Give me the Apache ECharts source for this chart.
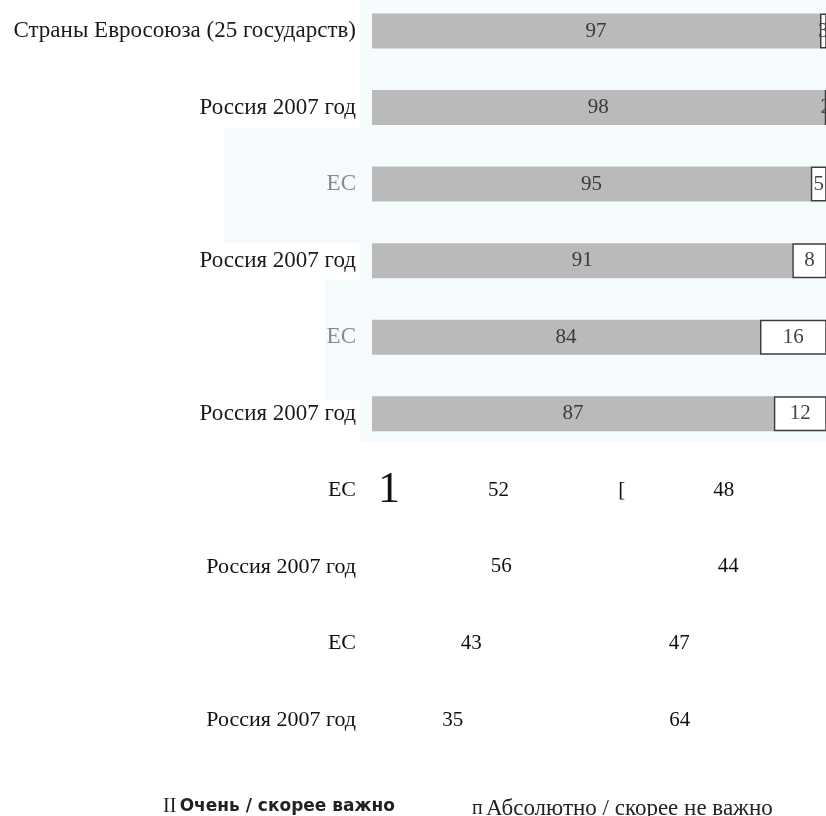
<!DOCTYPE html>
<html><head><meta charset="utf-8">
<script src="https://cdn.jsdelivr.net/npm/echarts@6/dist/echarts.min.js"></script>
<style>html,body{margin:0;padding:0;background:#fff}#c{width:826px;height:816px}</style>
</head><body><div id="c"></div><script>
const categories = ['Страны Евросоюза (25 государств)','Россия 2007 год','ЕС','Россия 2007 год','ЕС','Россия 2007 год','ЕС','Россия 2007 год','ЕС','Россия 2007 год'];
const importantValues = [97,98,95,91,84,87,52,56,43,35];
const notImportantValues = [3,2,5,8,16,12,48,44,47,64];
const seriesNames = ['Очень / скорее важно','Абсолютно / скорее не важно'];
const legendMarks = ['II','п'];
const scanMarks = ['1','['];
const scanRow = 6;
const barRows = 6;

const chart = echarts.init(document.getElementById('c'));
const serif = 'Liberation Serif';

const s1 = importantValues.map((v,i)=>{
  const item = {value:v};
  if (i < barRows) {
    item.itemStyle = {color:'#bababa'};
    item.label = {show:true, position:'inside', color:'#3a3a3a', fontSize:21, fontFamily:serif};
  } else {
    item.itemStyle = {color:'rgba(0,0,0,0)'};
    item.label = {show:true, position:'inside', color:'#111', fontSize:21, fontFamily:serif};
    if (i === scanRow) {
      item.label = {show:true, position:'insideLeft', distance:6,
        formatter:'{one|'+scanMarks[0]+'}{gap|}{v|{c}}',
        rich:{one:{fontSize:44, fontFamily:serif, color:'#111', verticalAlign:'middle'},
              gap:{width:88},
              v:{fontSize:21, fontFamily:serif, color:'#111', verticalAlign:'middle'}}};
    }
  }
  return item;
});
const s2 = notImportantValues.map((v,i)=>{
  const item = {value:v};
  if (i < barRows) {
    item.itemStyle = {color:'#ffffff', borderColor:'#3c3c3c', borderWidth:1.5};
    item.label = {show:true, position:'inside', color:'#444', fontSize:21, fontFamily:serif};
  } else {
    item.itemStyle = {color:'rgba(0,0,0,0)'};
    item.label = {show:true, position:'inside', color:'#111', fontSize:21, fontFamily:serif};
    if (i === scanRow) {
      item.label = {show:true, position:'insideLeft', distance:6,
        formatter:'{br|'+scanMarks[1]+'}{gap|}{v|{c}}',
        rich:{br:{fontSize:21, fontFamily:serif, color:'#111', verticalAlign:'middle'},
              gap:{width:88},
              v:{fontSize:21, fontFamily:serif, color:'#111', verticalAlign:'middle'}}};
    }
  }
  return item;
});

const legendText = (mark, font, size, weight) => ({
  formatter: n => '{m|' + mark + '} {t|' + n + '}',
  textStyle: {rich:{
    m:{fontFamily:serif, fontSize:20, color:'#222'},
    t:{fontFamily:font, fontSize:size, fontWeight:weight, color:'#222'}
  }}
});

chart.setOption({
  backgroundColor:'#ffffff',
  animation:false,
  graphic:[
    {type:'rect', z:-10, shape:{x:360,y:0,width:466,height:442}, style:{fill:'#f5fafd'}},
    {type:'rect', z:-10, shape:{x:224,y:128,width:136,height:115}, style:{fill:'#f5fafd'}},
    {type:'rect', z:-10, shape:{x:325,y:280,width:35,height:120}, style:{fill:'#f5fafd'}}
  ],
  grid:{left:372, right:0, top:31, height:689},
  xAxis:{type:'value', min:0, max:98.3, show:false},
  yAxis:{type:'category', data:categories, inverse:true, boundaryGap:false,
    axisLine:{show:false}, axisTick:{show:false}, splitLine:{show:false},
    axisLabel:{margin:16, fontFamily:serif, fontSize:23, color:'#1a1a1a',
      formatter:(v,i)=> (i===2||i===4) ? '{g|'+v+'}' : (i>=barRows ? '{b|'+v+'}' : v),
      rich:{g:{color:'#8a8a8a', fontFamily:serif, fontSize:23},
            b:{color:'#111', fontFamily:serif, fontSize:22}}}},
  legend:[
    Object.assign({data:[seriesNames[0]], left:153, top:792, icon:'none', itemWidth:0, itemGap:0},
      legendText(legendMarks[0], 'DejaVu Sans', 17, 'bold')),
    Object.assign({data:[seriesNames[1]], left:462, top:792, icon:'none', itemWidth:0, itemGap:0},
      legendText(legendMarks[1], serif, 23, 'normal'))
  ],
  series:[
    {name:seriesNames[0], type:'bar', stack:'t', barWidth:35, data:s1, color:'#bababa'},
    {name:seriesNames[1], type:'bar', stack:'t', barWidth:35, data:s2, color:'#ffffff'}
  ]
});
</script></body></html>
